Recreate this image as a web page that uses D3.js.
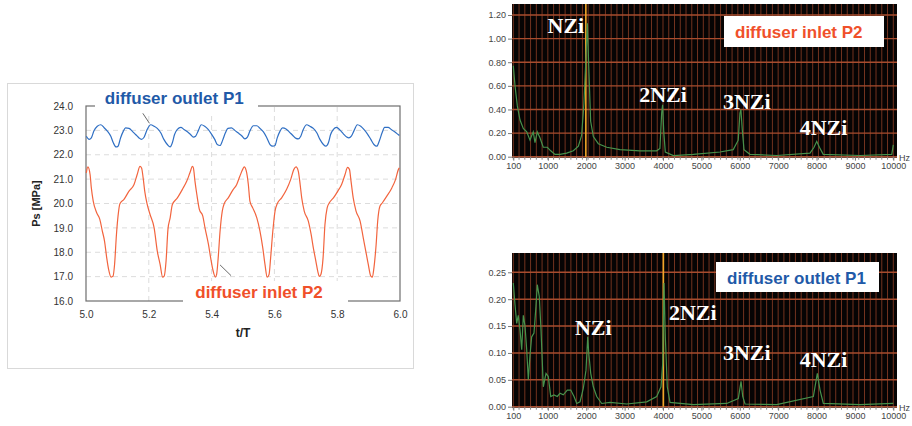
<!DOCTYPE html>
<html>
<head>
<meta charset="utf-8">
<script src="https://cdn.jsdelivr.net/npm/d3@7"></script>
<style>
body { margin: 0; background: #fff; }
svg { display: block; font-family: Arial, "Liberation Sans", sans-serif; }
</style>
</head>
<body>
<div id="chart"></div>
<script>
// time signal, t/T vs Ps [MPa]
const tTicks = [5.0, 5.2, 5.4, 5.6, 5.8, 6.0];
const psTicks = [16, 17, 18, 19, 20, 21, 22, 23, 24];

// diffuser outlet P1
const p1 = [[5.001,22.76],[5.010,22.63],[5.017,22.69],[5.025,22.97],[5.036,23.17],[5.047,23.23],[5.057,23.12],[5.068,22.97],
  [5.079,22.76],[5.087,22.49],[5.096,22.32],[5.102,22.35],[5.110,22.69],[5.119,22.97],[5.126,23.10],[5.137,23.08],[5.147,22.97],
  [5.158,22.83],[5.169,22.69],[5.176,22.63],[5.185,22.72],[5.195,23.04],[5.206,23.23],[5.217,23.17],[5.227,23.08],[5.238,22.90],
  [5.248,22.63],[5.259,22.42],[5.268,22.32],[5.275,22.49],[5.282,22.83],[5.291,23.04],[5.302,23.12],[5.312,23.04],[5.323,22.94],
  [5.333,22.83],[5.342,22.72],[5.349,22.76],[5.358,23.00],[5.367,23.23],[5.378,23.17],[5.389,23.04],[5.399,22.86],[5.410,22.63],
  [5.418,22.42],[5.427,22.38],[5.435,22.59],[5.444,22.90],[5.452,23.08],[5.463,23.10],[5.474,23.00],[5.484,22.90],[5.495,22.79],
  [5.506,22.65],[5.514,22.72],[5.522,22.97],[5.533,23.19],[5.544,23.19],[5.554,23.08],[5.565,22.94],[5.575,22.72],[5.586,22.42],
  [5.595,22.35],[5.602,22.38],[5.609,22.69],[5.618,22.97],[5.626,23.10],[5.637,23.06],[5.647,22.94],[5.658,22.80],[5.669,22.67],
  [5.676,22.65],[5.684,22.76],[5.692,23.04],[5.703,23.23],[5.713,23.17],[5.724,23.08],[5.735,22.90],[5.745,22.63],[5.756,22.42],
  [5.764,22.35],[5.772,22.49],[5.779,22.83],[5.788,23.04],[5.798,23.12],[5.809,23.01],[5.819,22.87],[5.830,22.73],[5.837,22.69],
  [5.845,22.76],[5.854,23.00],[5.864,23.23],[5.875,23.17],[5.885,23.04],[5.896,22.86],[5.907,22.63],[5.917,22.42],[5.926,22.35],
  [5.934,22.56],[5.943,22.90],[5.951,23.12],[5.962,23.12],[5.972,23.04],[5.983,22.94],[5.994,22.83],[5.998,22.79]];

// diffuser inlet P2
const p2 = [[5.001,21.26],[5.006,21.50],[5.013,21.19],[5.017,20.64],[5.023,20.10],[5.034,19.62],[5.044,19.35],[5.052,18.87],
  [5.059,18.46],[5.066,17.77],[5.072,17.30],[5.080,16.98],[5.086,17.02],[5.091,17.50],[5.097,18.73],[5.102,19.48],[5.108,19.99],
  [5.121,20.17],[5.137,20.51],[5.153,20.78],[5.163,21.19],[5.172,21.52],[5.177,21.46],[5.182,21.05],[5.187,20.51],[5.195,19.96],
  [5.204,19.55],[5.217,19.00],[5.227,18.05],[5.236,17.50],[5.244,16.98],[5.249,17.02],[5.255,17.64],[5.261,18.94],[5.268,19.41],
  [5.275,19.96],[5.291,20.23],[5.307,20.58],[5.321,20.92],[5.331,21.26],[5.339,21.52],[5.342,21.46],[5.347,20.92],[5.353,20.37],
  [5.361,19.76],[5.372,19.48],[5.379,19.00],[5.390,18.32],[5.397,17.77],[5.405,17.23],[5.412,16.98],[5.416,17.09],[5.421,17.77],
  [5.427,18.87],[5.434,19.69],[5.440,19.99],[5.453,20.23],[5.467,20.54],[5.480,20.78],[5.490,21.12],[5.499,21.40],[5.504,21.50],
  [5.510,21.36],[5.517,20.78],[5.522,20.10],[5.531,19.82],[5.544,19.41],[5.554,18.87],[5.563,18.18],[5.570,17.50],[5.577,16.98],
  [5.583,17.09],[5.588,17.77],[5.595,18.87],[5.602,19.69],[5.609,19.99],[5.623,20.23],[5.639,20.58],[5.652,20.99],[5.662,21.40],
  [5.669,21.50],[5.676,21.33],[5.682,20.78],[5.687,20.23],[5.695,19.69],[5.708,19.28],[5.717,18.73],[5.724,18.18],[5.732,17.64],
  [5.738,17.23],[5.743,17.01],[5.748,17.09],[5.755,17.77],[5.761,19.14],[5.768,19.82],[5.775,20.03],[5.788,20.23],[5.802,20.51],
  [5.814,20.78],[5.825,21.19],[5.833,21.48],[5.839,21.40],[5.844,20.92],[5.851,20.23],[5.860,19.69],[5.873,19.28],[5.883,18.59],
  [5.891,18.05],[5.899,17.50],[5.907,17.02],[5.912,16.98],[5.917,17.36],[5.924,18.32],[5.929,19.28],[5.936,19.89],[5.944,20.03],
  [5.958,20.30],[5.974,20.64],[5.986,20.99],[5.995,21.40],[5.998,21.46]];

// spectra, Hz vs amplitude
const freqTicks = [100, 1000, 2000, 3000, 4000, 5000, 6000, 7000, 8000, 9000, 10000];
const ampTicksP2 = [0, 0.2, 0.4, 0.6, 0.8, 1.0, 1.2];
const ampTicksP1 = [0, 0.05, 0.10, 0.15, 0.20, 0.25];
const harmonics = ['NZi', '2NZi', '3NZi', '4NZi'];
const harmonicFreq = [2000, 4000, 6000, 8000];

const specP2 = [[100,0.77],[145,0.60],[205,0.43],[275,0.31],[360,0.24],[450,0.21],[535,0.14],[580,0.18],[620,0.21],[665,0.12],
  [725,0.21],[795,0.16],[880,0.08],[985,0.08],[1075,0.05],[1185,0.02],[1315,0.02],[1490,0.03],[1665,0.05],[1795,0.09],[1880,0.18],
  [1940,0.45],[1995,0.85],[2030,1.13],[2065,0.77],[2115,0.30],[2185,0.17],[2315,0.11],[2535,0.08],[2880,0.06],[3400,0.05],
  [3835,0.05],[3920,0.07],[3965,0.37],[3990,0.44],[4020,0.21],[4060,0.04],[4270,0.01],[4790,0.02],[5485,0.04],[5830,0.06],
  [5960,0.14],[6005,0.37],[6030,0.40],[6065,0.23],[6110,0.06],[6265,0.02],[6960,0.01],[7830,0.03],[7935,0.08],[8005,0.13],
  [8075,0.08],[8175,0.02],[9135,0.01],[9960,0.02],[10000,0.10]];

const specP1 = [[100,0.23],[144,0.19],[189,0.155],[230,0.17],[275,0.143],[319,0.106],[361,0.17],[405,0.15],[449,0.106],[491,0.05],
  [535,0.096],[579,0.13],[639,0.137],[691,0.187],[725,0.227],[777,0.205],[822,0.143],[882,0.037],[952,0.062],[1012,0.056],
  [1075,0.019],[1160,0.022],[1246,0.019],[1317,0.025],[1403,0.022],[1507,0.031],[1596,0.031],[1682,0.019],[1752,0.006],
  [1838,0.009],[1924,0.034],[1994,0.068],[2039,0.13],[2065,0.10],[2117,0.062],[2184,0.037],[2273,0.019],[2403,0.006],
  [2620,0.008],[3055,0.005],[3576,0.009],[3836,0.019],[3948,0.037],[3993,0.081],[4027,0.23],[4060,0.13],[4112,0.037],
  [4183,0.008],[4790,0.004],[5660,0.006],[5962,0.015],[6033,0.047],[6077,0.019],[6137,0.005],[6963,0.004],[7917,0.019],
  [8021,0.062],[8091,0.031],[8177,0.006],[9133,0.004],[10000,0.006]];

const blue = '#1f5aa8', red = '#f0502a';

const svg = d3.select('#chart').append('svg')
    .attr('width', 912)
    .attr('height', 426)

// ---------- left: time series ----------
svg.append('rect')
    .attr('x', 7.5).attr('y', 83.5).attr('width', 406).attr('height', 285)
    .attr('fill', '#fff').attr('stroke', '#d9d9d9')

const x = d3.scaleLinear().domain([5, 6]).range([86, 400]);
const y = d3.scaleLinear().domain([16, 24]).range([301, 106]);

svg.selectAll('.vgrid')
    .data(tTicks.slice(1, -1))
    .enter()
    .append('line')
    .attr('x1', d=>x(d)).attr('x2', d=>x(d))
    .attr('y1', y(16)).attr('y2', y(24))
    .attr('stroke', '#dcdcdc').attr('stroke-dasharray', '5,4')

svg.selectAll('.hgrid')
    .data(psTicks.slice(1, -1))
    .enter()
    .append('line')
    .attr('x1', x(5)).attr('x2', x(6))
    .attr('y1', d=>y(d)).attr('y2', d=>y(d))
    .attr('stroke', '#dcdcdc').attr('stroke-dasharray', '5,4')

svg.append('rect')
    .attr('x', x(5)).attr('y', y(24))
    .attr('width', x(6) - x(5)).attr('height', y(16) - y(24))
    .attr('fill', 'none').attr('stroke', '#6e6e6e').attr('stroke-width', 1.2)

const xAxis = svg.append('g')
    .attr('transform', `translate(0,${y(16)})`)
    .call(d3.axisBottom(x).tickValues(tTicks).tickFormat(d3.format('.1f')).tickSize(0).tickPadding(10))
xAxis.select('.domain').remove();

const yAxis = svg.append('g')
    .attr('transform', `translate(${x(5)},0)`)
    .call(d3.axisLeft(y).tickValues(psTicks).tickFormat(d3.format('.1f')).tickSize(0).tickPadding(13))
yAxis.select('.domain').remove();

svg.selectAll('.tick text')
    .attr('font-size', 10)
    .attr('fill', '#333')
    .attr('font-family', 'Arial, "Liberation Sans", sans-serif')

const line = d3.line().x(d=>x(d[0])).y(d=>y(d[1])).curve(d3.curveMonotoneX);

svg.append('path').datum(p1)
    .attr('d', line).attr('fill', 'none')
    .attr('stroke', '#2f6fc4').attr('stroke-width', 1.2)

svg.append('path').datum(p2)
    .attr('d', line).attr('fill', 'none')
    .attr('stroke', '#f2643e').attr('stroke-width', 1.2)

// label boxes cover the frame
svg.append('rect').attr('x', 95).attr('y', 84).attr('width', 163).attr('height', 28).attr('fill', '#fff')
svg.append('rect').attr('x', 183).attr('y', 281).attr('width', 165).attr('height', 27).attr('fill', '#fff')

svg.append('text')
    .attr('x', x(5.06)).attr('y', 104)
    .attr('font-size', 17).attr('font-weight', 'bold').attr('fill', blue)
    .text('diffuser outlet P1')

svg.append('text')
    .attr('x', x(5.348)).attr('y', 298)
    .attr('font-size', 17).attr('font-weight', 'bold').attr('fill', red)
    .text('diffuser inlet P2')

// leader lines
svg.append('line')
    .attr('x1', x(5.181)).attr('y1', y(23.70)).attr('x2', x(5.202)).attr('y2', y(23.29))
    .attr('stroke', '#444').attr('stroke-width', 0.8)
svg.append('line')
    .attr('x1', x(5.427)).attr('y1', y(17.48)).attr('x2', x(5.462)).attr('y2', y(17.04))
    .attr('stroke', '#444').attr('stroke-width', 0.8)

svg.append('text')
    .attr('transform', `translate(40,${(y(16) + y(24)) / 2}) rotate(-90)`)
    .attr('text-anchor', 'middle')
    .attr('font-size', 11).attr('font-weight', 'bold').attr('fill', '#222')
    .text('Ps [MPa]')

svg.append('text')
    .attr('x', (x(5) + x(6)) / 2).attr('y', 337)
    .attr('text-anchor', 'middle')
    .attr('font-size', 12).attr('font-weight', 'bold').attr('fill', '#222')
    .text('t/T')

// ---------- right: spectra ----------
function spectrum(o) {
    const sx = d3.scaleLinear().domain([100, 10000]).range([513.3, 893.3]);
    const sy = d3.scaleLinear().domain([0, o.yMax]).range([o.y0, o.yTop]);
    const g = svg.append('g');

    g.append('rect')
        .attr('x', 512).attr('y', o.bgTop)
        .attr('width', 385).attr('height', o.y0 + 1 - o.bgTop)
        .attr('fill', '#060404')

    g.selectAll('.sv')
        .data(d3.range(100, 10001, 150))
        .enter()
        .append('line')
        .attr('x1', d=>sx(d)).attr('x2', d=>sx(d))
        .attr('y1', o.bgTop).attr('y2', o.y0)
        .attr('stroke', '#73331f').attr('stroke-width', 1)

    g.selectAll('.sh')
        .data(o.ticks)
        .enter()
        .append('line')
        .attr('x1', 512).attr('x2', 897)
        .attr('y1', d=>sy(d)).attr('y2', d=>sy(d))
        .attr('stroke', '#a84c2e').attr('stroke-width', 1.4)

    // ruler ticks under the plot
    g.selectAll('.st')
        .data(d3.range(100, 10001, 150))
        .enter()
        .append('line')
        .attr('x1', d=>sx(d)).attr('x2', d=>sx(d))
        .attr('y1', o.y0).attr('y2', o.y0 + 3)
        .attr('stroke', '#888')

    const ax = g.append('g')
        .attr('transform', `translate(0,${o.y0})`)
        .call(d3.axisBottom(sx).tickValues(freqTicks).tickFormat(d3.format('d')).tickSize(4).tickPadding(2))
    ax.select('.domain').remove();

    const ay = g.append('g')
        .attr('transform', 'translate(512,0)')
        .call(d3.axisLeft(sy).tickValues(o.ticks).tickFormat(d3.format('.2f')).tickSize(4).tickPadding(2))
    ay.select('.domain').remove();

    g.selectAll('.tick text')
        .attr('font-size', 9).attr('fill', '#444')
        .attr('font-family', 'Arial, "Liberation Sans", sans-serif')
    g.selectAll('.tick line').attr('stroke', '#777')

    g.append('text')
        .attr('x', 899).attr('y', o.y0 + 4)
        .attr('font-size', 9).attr('fill', '#444')
        .text('Hz')

    // cursor line
    g.append('line')
        .attr('x1', sx(o.cursor)).attr('x2', sx(o.cursor))
        .attr('y1', o.bgTop).attr('y2', o.y0)
        .attr('stroke', '#f0a628').attr('stroke-width', 1.6)

    g.append('path').datum(o.data)
        .attr('d', d3.line().x(d=>sx(d[0])).y(d=>sy(d[1])))
        .attr('fill', 'none')
        .attr('stroke', '#47924c').attr('stroke-width', 1.2)

    g.selectAll('.hl')
        .data(harmonics)
        .enter()
        .append('text')
        .attr('x', (d, i)=>sx(harmonicFreq[i]) + o.labelDx[i])
        .attr('y', (d, i)=>sy(o.labelAt[i]))
        .attr('text-anchor', (d, i)=>o.anchor[i])
        .attr('font-family', '"Liberation Serif", "Times New Roman", serif')
        .attr('font-weight', 'bold').attr('font-size', 22)
        .attr('fill', '#fff')
        .text(d=>d)

    g.append('rect')
        .attr('x', o.box[0]).attr('y', o.box[1]).attr('width', o.box[2]).attr('height', o.box[3])
        .attr('fill', '#fff')
    g.append('text')
        .attr('x', o.box[0] + 11).attr('y', o.box[1] + 22)
        .attr('font-size', 17).attr('font-weight', 'bold').attr('fill', o.color)
        .text(o.title)
}

spectrum({
    data: specP2, ticks: ampTicksP2, yMax: 1.2, y0: 156.7, yTop: 15, bgTop: 4,
    cursor: 1990, title: 'diffuser inlet P2', color: red, box: [724, 16, 160, 31],
    labelAt: [1.05, 0.46, 0.40, 0.18], labelDx: [-2, 0, 7, 7], anchor: ['end', 'middle', 'middle', 'middle']
});

spectrum({
    data: specP1, ticks: ampTicksP1, yMax: 0.25, y0: 406.7, yTop: 272.3, bgTop: 253,
    cursor: 4010, title: 'diffuser outlet P1', color: blue, box: [716, 262, 163, 30],
    labelAt: [0.134, 0.162, 0.087, 0.074], labelDx: [7, 6, 7, 7], anchor: ['middle', 'start', 'middle', 'middle']
});
</script>
</body>
</html>
